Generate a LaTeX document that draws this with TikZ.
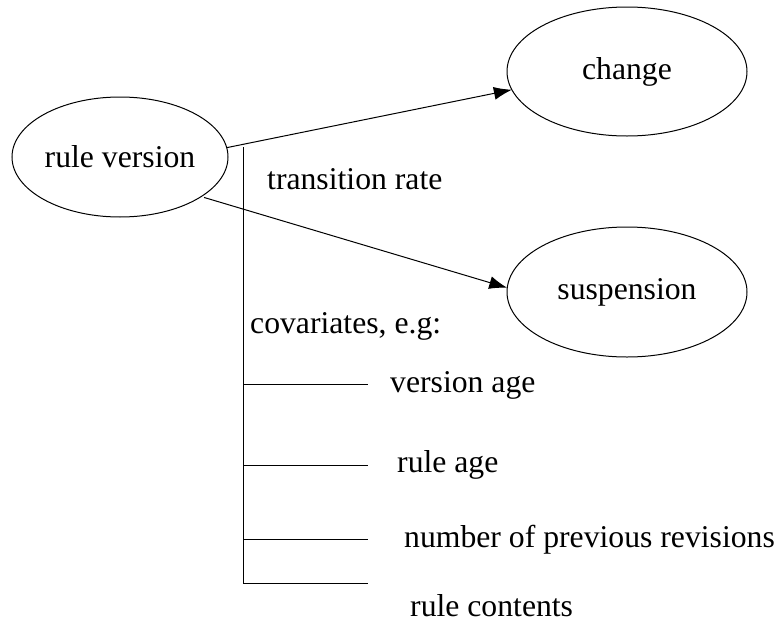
\documentclass[tikz,border=0pt]{standalone}
\usepackage{fontspec}
\setmainfont{Liberation Serif}
\usetikzlibrary{shapes.geometric,arrows.meta}
\begin{document}
\begin{tikzpicture}[x=1pt,y=-1pt,
  state/.style={draw,ellipse,line width=1pt,inner sep=0pt,outer sep=0pt,font=\fontsize{31.7}{36}\selectfont},
  lbl/.style={anchor=west,inner sep=0pt,font=\fontsize{31.7}{36}\selectfont},
  edge/.style={line width=1pt,-{Latex[length=18pt,width=13pt]}},
  rail/.style={line width=1pt}]
\useasboundingbox (0,0) rectangle (780,624);
% states
\node[state,minimum width=216pt,minimum height=120pt] (rv) at (120,157) {rule version};
\node[state,minimum width=240pt,minimum height=129pt] (ch) at (627,71.5) {change};
\node[state,minimum width=240pt,minimum height=130pt] (su) at (627,292) {suspension};
% transitions (anchor angles are on the canvas, y up)
\draw[edge] (rv.5) -- (ch.189);
\draw[edge,shorten <=3pt] (rv.-26) -- (su.178);
% covariate rail
\coordinate (top) at (243,147);
\coordinate (bot) at (243,583);
\draw[rail] (top) -- (bot);
\node[lbl] (tr) at (267,179) {transition rate};
\node[lbl] (cv) at (250,326) {covariates, e.g:};
\coordinate (b1) at (243,384);
\coordinate (b2) at (243,465);
\coordinate (b3) at (243,539);
\coordinate (e1) at (368,384);
\coordinate (e2) at (368,465);
\coordinate (e3) at (368,539);
\coordinate (e4) at (368,583);
\draw[rail] (b1) -- (e1);
\draw[rail] (b2) -- (e2);
\draw[rail] (b3) -- (e3);
\draw[rail] (bot) -- (e4);
\node[lbl] (c1) at (390,385) {version age};
\node[lbl] (c2) at (397,465) {rule age};
\node[lbl] (c3) at (404,540) {number of previous revisions};
\node[lbl] (c4) at (410,606) {rule contents};
\end{tikzpicture}
\end{document}
